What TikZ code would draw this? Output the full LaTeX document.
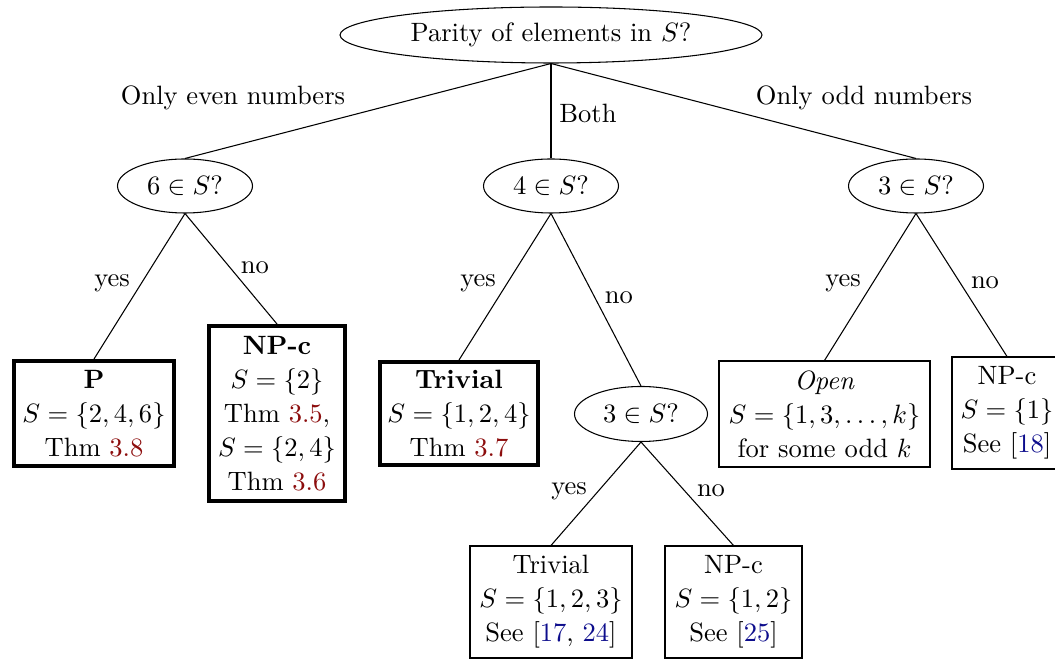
\documentclass[tikz,border=0pt]{standalone}
\usepackage{tikz}
\usetikzlibrary{shapes.geometric}
\definecolor{thmred}{rgb}{0.55,0.05,0.05}
\definecolor{citeblue}{rgb}{0.05,0.05,0.55}
\newcommand{\thmref}[1]{\textcolor{thmred}{#1}}
\newcommand{\citeref}[1]{\textcolor{citeblue}{#1}}
\newcommand{\pxu}{0.377pt}
\begin{document}
\begin{tikzpicture}[x=\pxu,y=-\pxu,
  every node/.style={font=\fontsize{10}{12.8}\selectfont},
  question/.style={draw, ellipse, inner sep=0pt, minimum width=135*\pxu, minimum height=54*\pxu},
  leaf/.style={draw, rectangle, align=center, inner sep=0pt, line width=0.4pt},
  result/.style={leaf, line width=1.5pt},
  lbl/.style={inner sep=0pt},
  edge/.style={draw, line width=0.4pt}]
\useasboundingbox (0,0) rectangle (1055,659);

\node[question, minimum width=422*\pxu, minimum height=56*\pxu] (root) at (551,35) {Parity of elements in $S$?};
\node[question] (q6) at (185,186) {$6\in S$?};
\node[question] (q4) at (551,186) {$4\in S$?};
\node[question] (q3) at (916,186) {$3\in S$?};
\node[question, minimum width=133*\pxu, minimum height=55*\pxu] (q3b) at (641,414) {$3\in S$?};

\node[result, minimum width=160*\pxu, minimum height=105*\pxu] (p) at (94,413.5)
  {\textbf{P}\\ $S=\{2,4,6\}$\\ Thm \thmref{3.8}};
\node[result, minimum width=136*\pxu, minimum height=175*\pxu] (npc1) at (277,413.5)
  {\textbf{NP-c}\\ $S=\{2\}$\\ Thm \thmref{3.5},\\ $S=\{2,4\}$\\ Thm \thmref{3.6}};
\node[result, minimum width=158*\pxu, minimum height=103*\pxu] (triv1) at (459,413.5)
  {\textbf{Trivial}\\ $S=\{1,2,4\}$\\ Thm \thmref{3.7}};
\node[leaf, minimum width=211*\pxu, minimum height=106*\pxu] (open) at (824.5,414)
  {\textit{Open}\\ $S=\{1,3,\dots,k\}$\\ for some odd $k$};
\node[leaf, minimum width=110*\pxu, minimum height=112*\pxu] (npc2) at (1007,413)
  {NP-c\\ $S=\{1\}$\\ See [\citeref{18}]};
\node[leaf, minimum width=162*\pxu, minimum height=112*\pxu] (triv2) at (551,602)
  {Trivial\\ $S=\{1,2,3\}$\\ See [\citeref{17}, \citeref{24}]};
\node[leaf, minimum width=137*\pxu, minimum height=112*\pxu] (npc3) at (733.5,602)
  {NP-c\\ $S=\{1,2\}$\\ See [\citeref{25}]};

\path[edge] (root.south) -- (q6.north);
\path[edge] (root.south) -- (q4.north);
\path[edge] (root.south) -- (q3.north);
\path[edge] (q6.south) -- (p.north);
\path[edge] (q6.south) -- (npc1.north);
\path[edge] (q4.south) -- (triv1.north);
\path[edge] (q4.south) -- (q3b.north);
\path[edge] (q3.south) -- (open.north);
\path[edge] (q3.south) -- (npc2.north);
\path[edge] (q3b.south) -- (triv2.north);
\path[edge] (q3b.south) -- (npc3.north);

\node[lbl] (l1) at (233,98) {Only even numbers};
\node[lbl] (l2) at (588,113) {Both};
\node[lbl] (l3) at (864,98) {Only odd numbers};
\node[lbl] (l4) at (112,283) {yes};
\node[lbl] (l5) at (255,268) {no};
\node[lbl] (l6) at (478,283) {yes};
\node[lbl] (l7) at (619,298) {no};
\node[lbl] (l8) at (843,283) {yes};
\node[lbl] (l9) at (985,283) {no};
\node[lbl] (l10) at (569,491) {yes};
\node[lbl] (l11) at (711,491) {no};
\end{tikzpicture}
\end{document}
